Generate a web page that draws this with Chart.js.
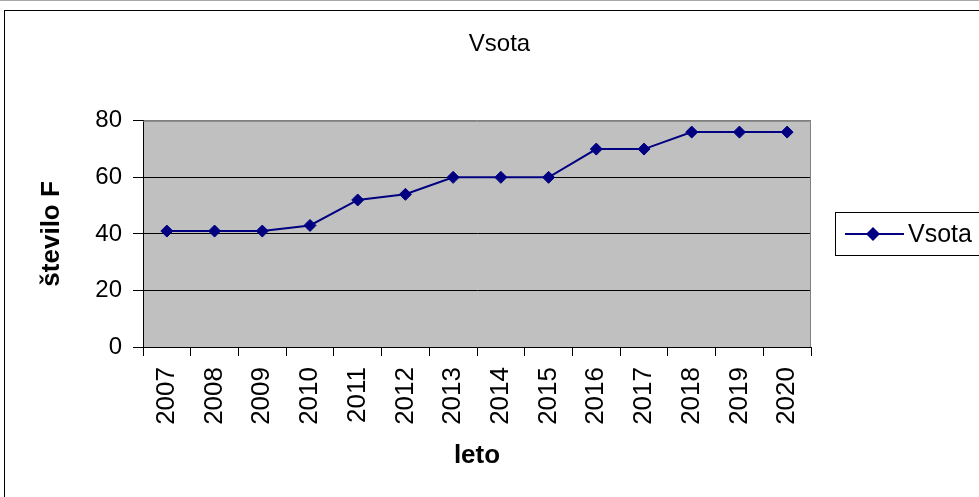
<!DOCTYPE html>
<html>
<head>
<meta charset="utf-8">
<title>Vsota</title>
<script src="https://cdn.jsdelivr.net/npm/chart.js@4"></script>
<style>
    html, body { margin: 0; padding: 0; background: #fff; overflow: hidden; }
    body { width: 979px; height: 497px; position: relative; }
    .topline { position: absolute; left: 0; top: 0; width: 979px; height: 1px; background: #a8a8a8; }
    .frame { position: absolute; left: 4px; top: 10px; width: 1200px; height: 1000px; border: 1px solid #000; }
    #chartBox { position: absolute; left: 0; top: 0; width: 979px; height: 497px; }
</style>
</head>
<body>
<div class="topline"></div>
<div class="frame"></div>
<div id="chartBox"><canvas id="chart"></canvas></div>
<script>
// Data
const years = ['2007', '2008', '2009', '2010', '2011', '2012', '2013', '2014', '2015', '2016', '2017', '2018', '2019', '2020'];
const vsota = [41, 41, 41, 43, 52, 54, 60, 60, 60, 70, 70, 76, 76, 76];
const yTicks = [0, 20, 40, 60, 80];

const FONT = "'Liberation Sans', Arial, sans-serif";
const NAVY = '#000080';

// Gray plot background with gray top/right border
const plotBackground = {
    id: 'plotBackground',
    beforeDraw(chart) {
        const { ctx, chartArea: a } = chart;
        ctx.save();
        ctx.fillStyle = '#c0c0c0';
        ctx.fillRect(a.left, a.top, a.right - a.left, a.bottom - a.top);
        ctx.restore();
    },
    afterDatasetsDraw(chart) {
        const { ctx, chartArea: a } = chart;
        ctx.save();
        ctx.strokeStyle = '#808080';
        ctx.lineWidth = 1;
        ctx.beginPath();
        ctx.moveTo(a.left, a.top + 0.5);
        ctx.lineTo(a.right - 0.5, a.top + 0.5);
        ctx.lineTo(a.right - 0.5, a.bottom);
        ctx.stroke();
        ctx.restore();
    }
};

// Boxed legend to the right of the plot: line + diamond + label
const boxedLegend = {
    id: 'boxedLegend',
    afterDraw(chart) {
        const { ctx, chartArea: a } = chart;
        const ds = chart.data.datasets[0];
        const x0 = a.right + 24;
        const yc = Math.round((a.top + a.bottom) / 2);
        ctx.save();
        ctx.strokeStyle = '#000';
        ctx.lineWidth = 1;
        ctx.strokeRect(x0 + 0.5, yc - 21.5, chart.width, 43);
        ctx.strokeStyle = ds.borderColor;
        ctx.lineWidth = 2;
        ctx.beginPath();
        ctx.moveTo(x0 + 10, yc);
        ctx.lineTo(x0 + 69, yc);
        ctx.stroke();
        ctx.fillStyle = ds.pointBackgroundColor;
        ctx.beginPath();
        ctx.moveTo(x0 + 38 - 7, yc);
        ctx.lineTo(x0 + 38, yc - 7);
        ctx.lineTo(x0 + 38 + 7, yc);
        ctx.lineTo(x0 + 38, yc + 7);
        ctx.closePath();
        ctx.fill();
        ctx.fillStyle = '#000';
        ctx.font = '25px ' + FONT;
        ctx.textBaseline = 'middle';
        ctx.fillText(ds.label, x0 + 73, yc + 1);
        ctx.restore();
    }
};

new Chart(document.getElementById('chart'), {
    type: 'line',
    data: {
        labels: years,
        datasets: [{
            label: 'Vsota',
            data: vsota,
            borderColor: NAVY,
            borderWidth: 2,
            pointStyle: 'rectRot',
            pointRadius: 6,
            pointBorderWidth: 1,
            pointBackgroundColor: NAVY,
            pointBorderColor: NAVY,
            tension: 0,
            fill: false
        }]
    },
    options: {
        responsive: true,
        maintainAspectRatio: false,
        animation: false,
        layout: {
            padding: { left: 20, right: 0, top: 0, bottom: 0 }
        },
        plugins: {
            legend: { display: false },
            tooltip: { enabled: false },
            title: {
                display: true,
                text: 'Vsota',
                color: '#000',
                font: { family: FONT, size: 24, weight: 'normal' },
                padding: { top: 30, bottom: 62 }
            }
        },
        scales: {
            x: {
                type: 'category',
                offset: true,
                afterFit: function(scale) { scale.height = 150; },
                grid: {
                    offset: true,
                    drawOnChartArea: false,
                    drawTicks: true,
                    tickLength: 9,
                    color: '#000'
                },
                border: { color: '#000', width: 1 },
                ticks: {
                    color: '#000',
                    font: { family: FONT, size: 26 },
                    minRotation: 90,
                    maxRotation: 90,
                    padding: 11,
                    autoSkip: false
                },
                title: {
                    display: true,
                    text: 'leto',
                    color: '#000',
                    font: { family: FONT, size: 26, weight: 'bold' },
                    padding: { top: 0, bottom: 26 }
                }
            },
            y: {
                min: 0,
                max: 80,
                afterFit: function(scale) { scale.width = 123; },
                afterBuildTicks: function(scale) {
                    scale.ticks = yTicks.map(v => ({ value: v }));
                },
                grid: {
                    color: ctx => (ctx.tick && ctx.tick.value === 80) ? '#808080' : '#000',
                    tickColor: '#000',
                    tickLength: 10,
                    lineWidth: 1
                },
                border: { color: '#000', width: 1 },
                ticks: {
                    color: '#000',
                    font: { family: FONT, size: 24 },
                    padding: 11
                },
                title: {
                    display: true,
                    text: 'število F',
                    color: '#000',
                    font: { family: FONT, size: 26, weight: 'bold' },
                    padding: { top: 16, bottom: 0 }
                }
            },
            // empty right-hand axis that reserves room for the legend box
            legendSpace: {
                type: 'linear',
                position: 'right',
                display: true,
                afterFit: function(scale) { scale.width = 168; },
                grid: { display: false },
                border: { display: false },
                ticks: { display: false }
            }
        }
    },
    plugins: [plotBackground, boxedLegend]
});
</script>
</body>
</html>
